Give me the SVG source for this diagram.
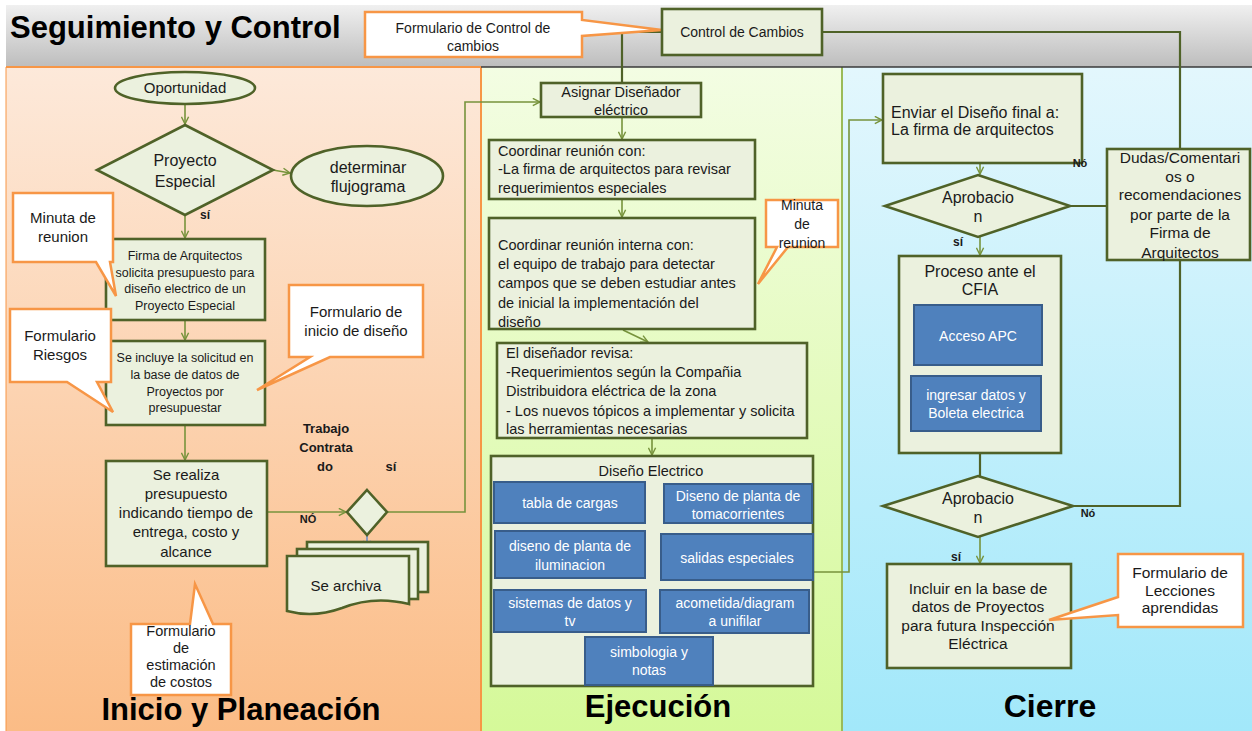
<svg xmlns="http://www.w3.org/2000/svg" width="1252" height="731" viewBox="0 0 1252 731">
<defs>
<linearGradient id="gBand" x1="0" y1="0" x2="0" y2="1"><stop offset="0" stop-color="#f0f0f0"/><stop offset="1" stop-color="#bdbdbd"/></linearGradient>
<linearGradient id="gLeft" x1="0" y1="0" x2="0" y2="1"><stop offset="0" stop-color="#fde9da"/><stop offset="1" stop-color="#fbbc86"/></linearGradient>
<linearGradient id="gMid" x1="0" y1="0" x2="0" y2="1"><stop offset="0" stop-color="#f3fde3"/><stop offset="1" stop-color="#d5f999"/></linearGradient>
<linearGradient id="gRight" x1="0" y1="0" x2="0" y2="1"><stop offset="0" stop-color="#e3f7fd"/><stop offset="1" stop-color="#a2e8fa"/></linearGradient>
<marker id="arr" viewBox="0 0 10 10" refX="9" refY="5" markerWidth="9" markerHeight="9" markerUnits="userSpaceOnUse" orient="auto"><path d="M1,1 L9,5 L1,9" fill="none" stroke="#77933c" stroke-width="1.6"/></marker>
<marker id="arrB" viewBox="0 0 10 10" refX="9" refY="5" markerWidth="9" markerHeight="9" markerUnits="userSpaceOnUse" orient="auto"><path d="M1,1 L9,5 L1,9" fill="none" stroke="#6f8fc8" stroke-width="1.6"/></marker>
</defs>
<style>
.node{fill:#ebf1de;stroke:#4f6228;stroke-width:2.6}
.blue{fill:#4f81bd;stroke:#385d8a;stroke-width:2}
.call{fill:#ffffff;stroke:#f79646;stroke-width:2.5;stroke-linejoin:miter}
.c{fill:none;stroke:#77933c;stroke-width:1.6}
.cd{fill:none;stroke:#4f6228;stroke-width:2.2}
text{font-family:"Liberation Sans",Arial,sans-serif;fill:#1a1a1a}
.m{text-anchor:middle}
.w{fill:#ffffff}
.b{font-weight:bold}
.t{font-weight:bold;fill:#000}
</style>

<!-- backgrounds -->
<rect x="6" y="67" width="475" height="664" fill="url(#gLeft)"/>
<rect x="481" y="67" width="361" height="664" fill="url(#gMid)"/>
<rect x="842" y="67" width="410" height="664" fill="url(#gRight)"/>
<line x1="481" y1="67" x2="481" y2="731" stroke="#f79646" stroke-width="2"/>
<line x1="842" y1="67" x2="842" y2="731" stroke="#9bbb59" stroke-width="2"/>
<line x1="6" y1="67" x2="6" y2="731" stroke="#f79646" stroke-width="1"/>
<rect x="6" y="5" width="1246" height="62" fill="url(#gBand)"/>
<line x1="6" y1="67" x2="481" y2="67" stroke="#f79646" stroke-width="2"/>
<line x1="481" y1="67" x2="1252" y2="67" stroke="#3a3a3a" stroke-width="1.5"/>
<text x="10" y="38" class="t" font-size="31">Seguimiento y Control</text>
<text x="241" y="720" class="t m" font-size="31">Inicio y Planeación</text>
<text x="658" y="717" class="t m" font-size="31">Ejecución</text>
<text x="1050" y="717" class="t m" font-size="32">Cierre</text>

<!-- connectors -->
<g id="connectors">
<path class="c" d="M185,104 V124" marker-end="url(#arr)"/>
<path class="c" d="M273,170 L290,173" marker-end="url(#arr)"/>
<path class="c" d="M185,215 V238" marker-end="url(#arr)"/>
<path class="c" d="M185,320 V340" marker-end="url(#arr)"/>
<path class="c" d="M185,425 V460" marker-end="url(#arr)"/>
<path class="c" d="M267,512 H346" marker-end="url(#arr)"/>
<path class="c" d="M387,512 H465 V102 H540" marker-end="url(#arr)"/>
<path class="c" d="M367,535 V548" marker-end="url(#arrB)" style="stroke:#6f8fc8"/>
<path class="cd" d="M662,32 H622 V83"/>
<path class="cd" d="M822,32 H1180 V149"/>
<path class="c" d="M622,117 V139" marker-end="url(#arr)"/>
<path class="c" d="M622,199 V217" marker-end="url(#arr)"/>
<path class="c" d="M623,330 L648,342" marker-end="url(#arr)"/>
<path class="c" d="M652,438 V455" marker-end="url(#arr)"/>
<path class="c" d="M813,572 H849 V120 H882" marker-end="url(#arr)"/>
<path class="c" d="M980,163 V174" marker-end="url(#arr)"/>
<path class="cd" d="M1070,206 H1107"/>
<path class="c" d="M980,237 V255" marker-end="url(#arr)"/>
<path class="cd" d="M980,453 V476"/>
<path class="cd" d="M1073,506 H1180 V260"/>
<path class="c" d="M980,537 V563" marker-end="url(#arr)"/>
</g>

<!-- top band nodes -->
<g id="callout-control">
<polygon class="call" points="365,12 582,12 582,20 662,30 582,36 582,57 365,57"/>
<text x="473" y="33" class="m" font-size="14">Formulario de Control de</text>
<text x="473" y="51" class="m" font-size="14">cambios</text>
</g>
<g id="control-cambios">
<rect class="node" x="662" y="9" width="160" height="46"/>
<text x="742" y="37" class="m" font-size="14">Control de Cambios</text>
</g>

<!-- left column -->
<g id="oportunidad">
<ellipse class="node" cx="185" cy="88" rx="70" ry="16"/>
<text x="185" y="93" class="m" font-size="15">Oportunidad</text>
</g>
<g id="proyecto-especial">
<polygon class="node" points="185,125 273,170 185,215 97,170"/>
<text x="185" y="166" class="m" font-size="16">Proyecto</text>
<text x="185" y="187" class="m" font-size="16">Especial</text>
</g>
<g id="determinar">
<ellipse class="node" cx="367" cy="176" rx="76" ry="30"/>
<text x="368" y="173" class="m" font-size="16">determinar</text>
<text x="368" y="192" class="m" font-size="16">flujograma</text>
</g>
<text x="205" y="219" class="b m" font-size="12">sí</text>
<g id="firma">
<rect class="node" x="106" y="239" width="159" height="81"/>
<text x="185" y="260" class="m" font-size="12.5">Firma de Arquitectos</text>
<text x="185" y="277" class="m" font-size="12.5">solicita presupuesto para</text>
<text x="185" y="293" class="m" font-size="12.5">diseño electrico de un</text>
<text x="185" y="310" class="m" font-size="12.5">Proyecto Especial</text>
</g>
<g id="incluye">
<rect class="node" x="106" y="341" width="159" height="84"/>
<text x="185" y="362" class="m" font-size="12.5">Se incluye la solicitud en</text>
<text x="185" y="379" class="m" font-size="12.5">la base de datos de</text>
<text x="185" y="396" class="m" font-size="12.5">Proyectos por</text>
<text x="185" y="412" class="m" font-size="12.5">presupuestar</text>
</g>
<g id="realiza">
<rect class="node" x="106" y="461" width="161" height="105"/>
<text x="186" y="480" class="m" font-size="15">Se realiza</text>
<text x="186" y="499" class="m" font-size="15">presupuesto</text>
<text x="186" y="518" class="m" font-size="15">indicando tiempo de</text>
<text x="186" y="537" class="m" font-size="15">entrega, costo y</text>
<text x="186" y="557" class="m" font-size="15">alcance</text>
</g>
<text x="308" y="523" class="b m" font-size="11">NÓ</text>
<g id="trabajo-contratado">
<polygon class="node" points="367,490 387,512 367,535 347,512"/>
<text x="326" y="433" class="b m" font-size="13">Trabajo</text>
<text x="326" y="452" class="b m" font-size="13">Contrata</text>
<text x="325" y="471" class="b m" font-size="13">do</text>
<text x="391" y="471" class="b m" font-size="13">sí</text>
</g>
<g id="archiva">
<rect class="node" x="307" y="542" width="121" height="50"/>
<rect class="node" x="297" y="549" width="121" height="50"/>
<path class="node" d="M287,556 H409 V604 C385,598 362,600 342,608 C320,616 302,615 287,611 Z"/>
<text x="346" y="591" class="m" font-size="15">Se archiva</text>
</g>
<g id="callout-minuta1">
<polygon class="call" points="13,193 113,193 113,262 110,262 116,296 96,262 13,262"/>
<text x="63" y="223" class="m" font-size="15">Minuta de</text>
<text x="63" y="242" class="m" font-size="15">reunion</text>
</g>
<g id="callout-riesgos">
<polygon class="call" points="10,309 111,309 111,382 97,382 113,412 67,382 10,382"/>
<text x="60" y="341" class="m" font-size="15">Formulario</text>
<text x="60" y="360" class="m" font-size="15">Riesgos</text>
</g>
<g id="callout-inicio">
<polygon class="call" points="289,285 423,285 423,357 330,357 257,390 310,357 289,357"/>
<text x="356" y="317" class="m" font-size="15">Formulario de</text>
<text x="356" y="336" class="m" font-size="15">inicio de diseño</text>
</g>
<g id="callout-estimacion">
<polygon class="call" points="131,624 190,624 195,584 213,624 231,624 231,695 131,695"/>
<text x="181" y="636" class="m" font-size="14.5">Formulario</text>
<text x="181" y="653" class="m" font-size="14.5">de</text>
<text x="181" y="670" class="m" font-size="14.5">estimación</text>
<text x="181" y="687" class="m" font-size="14.5">de costos</text>
</g>

<!-- middle column -->
<g id="asignar">
<rect class="node" x="541" y="83" width="160" height="34"/>
<text x="621" y="97" class="m" font-size="14.5">Asignar Diseñador</text>
<text x="621" y="115" class="m" font-size="14.5">eléctrico</text>
</g>
<g id="coordinar1">
<rect class="node" x="489" y="140" width="266" height="59"/>
<text x="498" y="156" font-size="14.5">Coordinar reunión con:</text>
<text x="498" y="174" font-size="14.5">-La firma de arquitectos para  revisar</text>
<text x="498" y="193" font-size="14.5">requerimientos especiales</text>
</g>
<g id="coordinar2">
<rect class="node" x="489" y="218" width="266" height="111"/>
<text x="498" y="250" font-size="14.5">Coordinar reunión  interna con:</text>
<text x="498" y="269" font-size="14.5">el equipo de trabajo para detectar</text>
<text x="498" y="288" font-size="14.5">campos que se deben estudiar  antes</text>
<text x="498" y="308" font-size="14.5">de inicial la implementación del</text>
<text x="498" y="327" font-size="14.5">diseño</text>
</g>
<g id="callout-minuta2">
<polygon class="call" points="766,200 838,200 838,247 788,247 758,284 777,247 766,247"/>
<text x="802" y="210" class="m" font-size="14">Minuta</text>
<text x="802" y="229" class="m" font-size="14">de</text>
<text x="802" y="248" class="m" font-size="14">reunion</text>
</g>
<g id="revisa">
<rect class="node" x="497" y="343" width="310" height="95"/>
<text x="506" y="358" font-size="14.5">El diseñador  revisa:</text>
<text x="506" y="377" font-size="14.5">-Requerimientos  según la Compañia</text>
<text x="506" y="396" font-size="14.5">Distribuidora eléctrica  de la zona</text>
<text x="506" y="416" font-size="14.5">- Los nuevos tópicos a implementar y solicita</text>
<text x="506" y="434" font-size="14.5">las herramientas necesarias</text>
</g>
<g id="diseno-electrico">
<rect class="node" x="491" y="456" width="322" height="230"/>
<text x="651" y="476" class="m" font-size="14.5">Diseño Electrico</text>
</g>
<g id="tabla-cargas">
<rect class="blue" x="494" y="482" width="151" height="41"/>
<text x="570" y="508" class="m w" font-size="14">tabla de cargas</text>
</g>
<g id="tomacorrientes">
<rect class="blue" x="664" y="484" width="148" height="39"/>
<text x="738" y="501" class="m w" font-size="14">Diseno de planta de</text>
<text x="738" y="519" class="m w" font-size="14">tomacorrientes</text>
</g>
<g id="iluminacion">
<rect class="blue" x="495" y="531" width="150" height="47"/>
<text x="570" y="551" class="m w" font-size="14">diseno de planta de</text>
<text x="570" y="570" class="m w" font-size="14">iluminacion</text>
</g>
<g id="salidas">
<rect class="blue" x="661" y="534" width="152" height="46"/>
<text x="737" y="563" class="m w" font-size="14">salidas especiales</text>
</g>
<g id="datos-tv">
<rect class="blue" x="494" y="590" width="152" height="42"/>
<text x="570" y="608" class="m w" font-size="14">sistemas de datos y</text>
<text x="570" y="626" class="m w" font-size="14">tv</text>
</g>
<g id="acometida">
<rect class="blue" x="660" y="590" width="149" height="43"/>
<text x="735" y="608" class="m w" font-size="14">acometida/diagram</text>
<text x="735" y="626" class="m w" font-size="14">a unifilar</text>
</g>
<g id="simbologia">
<rect class="blue" x="585" y="637" width="128" height="48"/>
<text x="649" y="657" class="m w" font-size="14">simbologia y</text>
<text x="649" y="675" class="m w" font-size="14">notas</text>
</g>

<!-- right column -->
<g id="enviar">
<rect class="node" x="883" y="74" width="199" height="89"/>
<text x="891" y="118" font-size="16">Enviar el Diseño final a:</text>
<text x="891" y="135" font-size="16">La firma de arquitectos</text>
</g>
<text x="1080" y="167" class="b m" font-size="11">Nó</text>
<g id="aprobacion1">
<polygon class="node" points="978,175 1070,206 978,237 885,206"/>
<text x="978" y="203" class="m" font-size="16">Aprobacio</text>
<text x="978" y="222" class="m" font-size="16">n</text>
</g>
<text x="958" y="246" class="b m" font-size="12">sí</text>
<g id="dudas">
<rect class="node" x="1107" y="149" width="143" height="111"/>
<text x="1180" y="163" class="m" font-size="15.5">Dudas/Comentari</text>
<text x="1180" y="182" class="m" font-size="15.5">os o</text>
<text x="1180" y="200" class="m" font-size="15.5">recomendaciones</text>
<text x="1180" y="220" class="m" font-size="15.5">por parte de la</text>
<text x="1180" y="238" class="m" font-size="15.5">Firma de</text>
<text x="1180" y="258" class="m" font-size="15.5">Arquitectos</text>
</g>
<g id="cfia">
<rect class="node" x="899" y="256" width="162" height="197"/>
<text x="980" y="277" class="m" font-size="16">Proceso ante el</text>
<text x="980" y="295" class="m" font-size="16">CFIA</text>
</g>
<g id="acceso-apc">
<rect class="blue" x="914" y="305" width="128" height="60"/>
<text x="978" y="341" class="m w" font-size="14">Acceso APC</text>
</g>
<g id="ingresar">
<rect class="blue" x="911" y="376" width="130" height="55"/>
<text x="976" y="400" class="m w" font-size="14">ingresar datos y</text>
<text x="976" y="418" class="m w" font-size="14">Boleta electrica</text>
</g>
<g id="aprobacion2">
<polygon class="node" points="978,476 1073,506 978,537 883,506"/>
<text x="978" y="504" class="m" font-size="16">Aprobacio</text>
<text x="978" y="523" class="m" font-size="16">n</text>
</g>
<text x="1088" y="517" class="b m" font-size="11">Nó</text>
<text x="956" y="561" class="b m" font-size="12">sí</text>
<g id="incluir">
<rect class="node" x="887" y="564" width="184" height="104"/>
<text x="978" y="594" class="m" font-size="15.5">Incluir en la base de</text>
<text x="978" y="612" class="m" font-size="15.5">datos de Proyectos</text>
<text x="978" y="631" class="m" font-size="15.5">para futura Inspección</text>
<text x="978" y="649" class="m" font-size="15.5">Eléctrica</text>
</g>
<g id="callout-lecciones">
<polygon class="call" points="1118,554 1243,554 1243,627 1118,627 1118,615 1049,620 1118,597"/>
<text x="1180" y="578" class="m" font-size="15.5">Formulario de</text>
<text x="1180" y="596" class="m" font-size="15.5">Lecciones</text>
<text x="1180" y="613" class="m" font-size="15.5">aprendidas</text>
</g>
</svg>
